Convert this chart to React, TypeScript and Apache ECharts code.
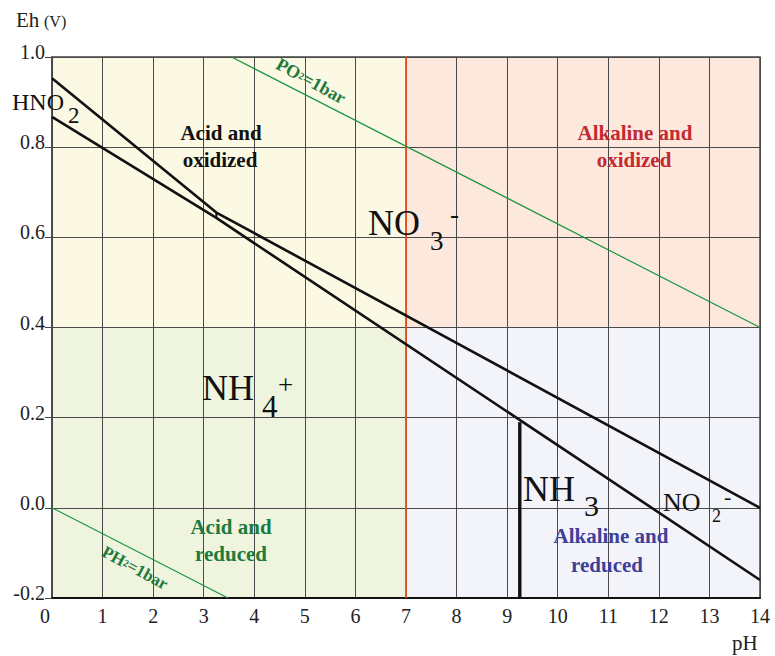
import React, { useEffect, useRef } from "react";
import * as echarts from "echarts";

// ---- data ----
const xMin = 0;
const xMax = 14;
const yMin = -0.2;
const yMax = 1.0;
const xInterval = 1;
const yInterval = 0.2;

// boundary lines (pH, Eh)
const no3Boundary = [[0, 0.953], [3.25, 0.655], [14, 0.0]];
const nh4Boundary = [[0, 0.867], [3.25, 0.643], [14, -0.16]];
const hno2No2Boundary = [[3.25, 0.643], [3.25, 0.655]];
const nh4Nh3Boundary = [[9.25, -0.2], [9.25, 0.19]];
const o2Line = [[3.55, 1.0], [14, 0.4]];
const h2Line = [[0, 0.0], [3.48, -0.2]];
const neutralLine = [[7, -0.2], [7, 1.0]];

// quadrants: [xFrom, xTo, yFrom, yTo]
const quadrantRanges = [
  [0, 7, 0.4, 1.0],
  [7, 14, 0.4, 1.0],
  [0, 7, -0.2, 0.4],
  [7, 14, -0.2, 0.4],
];
const quadrantColors = ["#fbf8e3", "#fde8de", "#eef4de", "#f3f3fa"];

const SERIF = "'Liberation Serif', 'Times New Roman', serif";

export default function App() {
  const ref = useRef<HTMLDivElement>(null);

  useEffect(() => {
    if (!ref.current) return;
    const chart = echarts.init(ref.current, undefined, { renderer: "svg" });

    const lineSeries = (data: number[][], color: string, width: number, z = 5) => ({
      type: "line",
      data,
      symbol: "none",
      silent: true,
      z,
      lineStyle: { color, width },
      itemStyle: { color },
    });

    const txt = (
      text: string,
      x: number,
      y: number,
      font: string,
      fill: string,
      align = "left",
      extra: any = {}
    ) => ({
      type: "text",
      x,
      y,
      silent: true,
      z: 100,
      ...extra,
      style: {
        text,
        font,
        fill,
        align,
        verticalAlign: "middle",
        textAlign: align,
        textVerticalAlign: "middle",
        ...(extra.style || {}),
      },
    });

    const subRich = {
      s: {
        font: `bold 10px ${SERIF}`,
        fill: "#1e7a3c",
        fontSize: 10,
        fontWeight: "bold",
        fontFamily: SERIF,
        color: "#1e7a3c",
      },
    };

    const option: any = {
      animation: false,
      backgroundColor: "#ffffff",
      grid: {
        left: 52,
        right: 15,
        top: 57,
        bottom: 58,
        show: true,
        z: 3,
        borderColor: "#444",
        borderWidth: 1.5,
        backgroundColor: "transparent",
      },
      xAxis: {
        type: "value",
        min: xMin,
        max: xMax,
        interval: xInterval,
        z: 3,
        axisLine: { show: true, onZero: false, lineStyle: { color: "#111", width: 2 } },
        axisTick: { show: false },
        splitLine: { show: true, lineStyle: { color: "#4a4a4a", width: 1 } },
        axisLabel: {
          margin: 8,
          color: "#222",
          fontFamily: SERIF,
          fontSize: 20,
          formatter: (v: number) => (v === 0 ? "{z|0}" : String(v)),
          rich: {
            z: { padding: [0, 14, 0, 0], fontFamily: SERIF, fontSize: 20, color: "#222" },
          },
        },
      },
      yAxis: {
        type: "value",
        min: yMin,
        max: yMax,
        interval: yInterval,
        z: 3,
        axisLine: { show: true, onZero: false, lineStyle: { color: "#444", width: 1.5 } },
        axisTick: { show: true, inside: false, length: 7, lineStyle: { color: "#444", width: 1 } },
        splitLine: { show: true, lineStyle: { color: "#4a4a4a", width: 1 } },
        axisLabel: {
          margin: 7,
          color: "#222",
          fontFamily: SERIF,
          fontSize: 20,
          verticalAlign: "bottom",
          lineHeight: 10,
          formatter: (v: number) => v.toFixed(1),
        },
      },
      series: [
        {
          type: "line",
          data: [[xMin, yMin]],
          symbol: "none",
          silent: true,
          z: 0,
          lineStyle: { width: 0 },
          markArea: {
            silent: true,
            z: 0,
            data: quadrantRanges.map((r, i) => [
              { xAxis: r[0], yAxis: r[2], itemStyle: { color: quadrantColors[i], opacity: 1 } },
              { xAxis: r[1], yAxis: r[3] },
            ]),
          },
        },
        lineSeries(neutralLine, "#f04a1a", 1.8),
        lineSeries(o2Line, "#18963c", 1.2),
        lineSeries(h2Line, "#18963c", 1.2),
        lineSeries(no3Boundary, "#111", 2.6),
        lineSeries(nh4Boundary, "#111", 2.6),
        lineSeries(hno2No2Boundary, "#111", 2),
        lineSeries(nh4Nh3Boundary, "#111", 3.4),
      ],
      graphic: [
        // axis titles
        txt("Eh", 16, 20, `21px ${SERIF}`, "#222"),
        txt("(V)", 44, 21, `16px ${SERIF}`, "#222"),
        txt("pH", 732, 643, `21px ${SERIF}`, "#222"),
        // species
        txt("HNO", 12, 102, `24px ${SERIF}`, "#111"),
        txt("2", 68, 115, `23px ${SERIF}`, "#111"),
        txt("NO", 368, 223, `36px ${SERIF}`, "#111"),
        txt("3", 430, 241, `27px ${SERIF}`, "#111"),
        txt("-", 450, 214, `27px ${SERIF}`, "#111"),
        txt("NH", 202, 388, `36px ${SERIF}`, "#111"),
        txt("4", 262, 406, `31px ${SERIF}`, "#111"),
        txt("+", 278, 385, `27px ${SERIF}`, "#111"),
        txt("NH", 523, 489, `36px ${SERIF}`, "#111"),
        txt("3", 584, 505, `30px ${SERIF}`, "#111"),
        txt("NO", 663, 502, `26px ${SERIF}`, "#111"),
        txt("2", 712, 516, `18px ${SERIF}`, "#111"),
        txt("-", 724, 496, `22px ${SERIF}`, "#111"),
        // quadrant labels
        txt("Acid and", 221, 133, `bold 21px ${SERIF}`, "#111", "center"),
        txt("oxidized", 220, 160, `bold 21px ${SERIF}`, "#111", "center"),
        txt("Alkaline and", 635, 133, `bold 21px ${SERIF}`, "#c42a32", "center"),
        txt("oxidized", 634, 160, `bold 21px ${SERIF}`, "#c42a32", "center"),
        txt("Acid and", 231, 527, `bold 21px ${SERIF}`, "#1e7a3c", "center"),
        txt("reduced", 231, 554, `bold 21px ${SERIF}`, "#1e7a3c", "center"),
        txt("Alkaline and", 611, 536, `bold 21px ${SERIF}`, "#3f3f9a", "center"),
        txt("reduced", 607, 565, `bold 21px ${SERIF}`, "#3f3f9a", "center"),
        // gas lines
        txt("PO{s|2}=1bar", 311, 81, `bold 18px ${SERIF}`, "#1e7a3c", "center", {
          rotation: -0.5,
          style: { rich: subRich },
        }),
        txt("PH{s|2}=1bar", 135, 568, `bold 17px ${SERIF}`, "#1e7a3c", "center", {
          rotation: -0.5,
          style: { rich: subRich },
        }),
      ],
    };

    chart.setOption(option);
    return () => chart.dispose();
  }, []);

  return (
    <div
      ref={ref}
      style={{ position: "fixed", left: 0, top: 0, width: 775, height: 656, background: "#fff" }}
    />
  );
}
